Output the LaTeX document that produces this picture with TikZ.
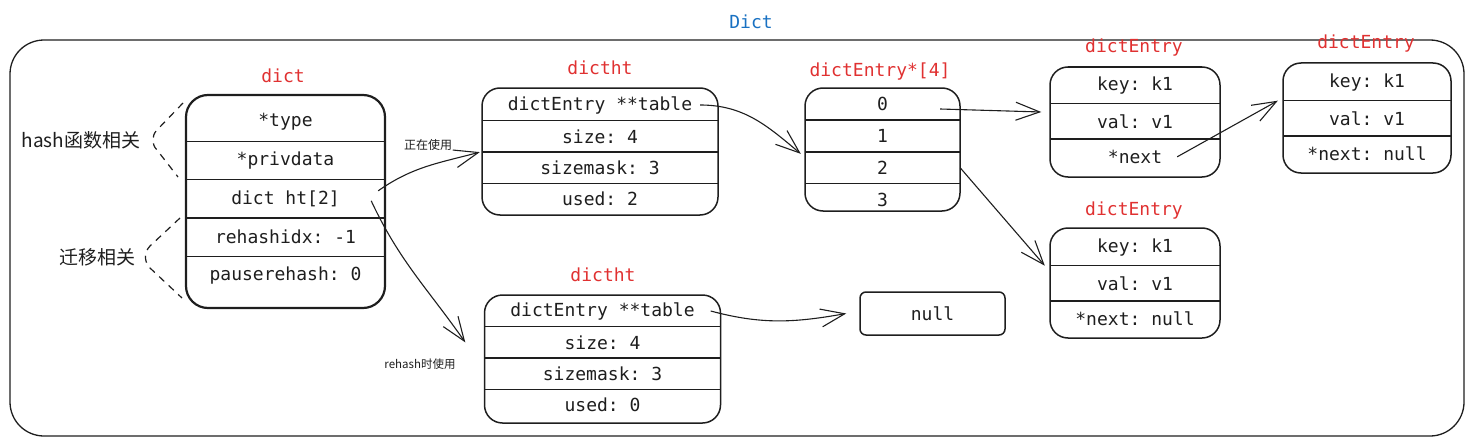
\documentclass[tikz,border=0pt]{standalone}
\usepackage{fontspec}
\setmonofont{DejaVu Sans Mono}
\newfontfamily\cjk{Noto Sans CJK SC}
\usetikzlibrary{arrows.meta,positioning}
\definecolor{ink}{HTML}{1E1E1E}
\definecolor{tagred}{HTML}{E03131}
\definecolor{tagblue}{HTML}{1971C2}

\begin{document}
\begin{tikzpicture}[x=1pt, y=-1pt,
      every node/.append style={font=\ttfamily\fontsize{18}{20}\selectfont, text=ink},
      box/.style={draw=ink, line width=1.5pt, rounded corners=18pt},
      tag/.style={text=tagred}]
    \useasboundingbox (0,0) rectangle (1474,444);
    \tikzstyle{sep} = [draw=ink, line width=1.3pt]
    \tikzstyle{link} = [draw=ink, line width=1.1pt, -{Straight Barb[length=24pt,width=18pt]}]
    \tikzstyle{note} = [font=\cjk\fontsize{12}{14}\selectfont]
    \tikzstyle{side} = [font=\cjk\fontsize{19}{22}\selectfont]
    \tikzstyle{brace} = [draw=ink, line width=1.2pt, dash pattern=on 7pt off 6pt]
    \tikzstyle{dfield} = [inner sep=0pt, minimum width=199pt, minimum height=38pt]
    \tikzstyle{tfield} = [inner sep=0pt, minimum width=236pt, minimum height=31pt]
    \tikzstyle{afield} = [inner sep=0pt, minimum width=155pt, minimum height=31.5pt]
    \tikzstyle{efield} = [inner sep=0pt, minimum width=170pt, minimum height=35pt]

    \node[draw=ink, line width=1.3pt, rounded corners=34pt, minimum width=1454pt, minimum height=396pt] (frame) at (737,238) {};
    \node[text=tagblue] (dictname) at (751,22) {Dict};

    \node[box, line width=2.2pt, rounded corners=22pt, minimum width=199pt, minimum height=213pt] (dict) at (285.5,201.5) {};
    \node[tag] (dictlbl) at (283,76) {dict};
    \node[dfield] (d1) at (285.5,122) {*type};
    \node[dfield, below=0pt of d1] (d2) {*privdata};
    \node[dfield, below=0pt of d2] (d3) {dict ht[2]};
    \node[dfield, below=0pt of d3] (d4) {rehashidx: -1};
    \node[dfield, below=0pt of d4] (d5) {pauserehash: 0};
    \foreach \r in {d1,d2,d3,d4} \draw[sep] (\r.south west) -- (\r.south east);

    \node[side] (hashfn) at (81,140) {hash函数相关};
    \node[side] (moverel) at (97,257) {迁移相关};
    \draw[brace] (183,103) -- (157,130) to[out=225,in=135] (157,150) -- (178,177);
    \draw[brace] (180,218) -- (150,246) to[out=225,in=135] (150,268) -- (182,298);

    \node[box, minimum width=236pt, minimum height=127pt] (ht1) at (600,151.5) {};
    \node[tag] (ht1lbl) at (600,68) {dictht};
    \node[tfield] (t1) at (600,105) {dictEntry **table};
    \node[tfield, below=0pt of t1] (t2) {size: 4};
    \node[tfield, below=0pt of t2] (t3) {sizemask: 3};
    \node[tfield, below=0pt of t3] (t4) {used: 2};
    \foreach \r in {t1,t2,t3} \draw[sep] (\r.south west) -- (\r.south east);

    \node[box, minimum width=236pt, minimum height=128pt] (ht2) at (602.5,359) {};
    \node[tag] (ht2lbl) at (603,275) {dictht};
    \node[tfield] (u1) at (602.5,311) {dictEntry **table};
    \node[tfield, below=0pt of u1] (u2) {size: 4};
    \node[tfield, below=0pt of u2] (u3) {sizemask: 3};
    \node[tfield, below=0pt of u3] (u4) {used: 0};
    \foreach \r in {u1,u2,u3} \draw[sep] (\r.south west) -- (\r.south east);

    \node[box, minimum width=155pt, minimum height=123pt] (tab) at (882.5,149.5) {};
    \node[tag] (tablbl) at (880,72) {dictEntry*[4]};
    \node[afield] (a0) at (882.5,104) {0};
    \node[afield, below=0pt of a0] (a1) {1};
    \node[afield, below=0pt of a1] (a2) {2};
    \node[afield, below=0pt of a2] (a3) {3};
    \foreach \r in {a0,a1,a2} \draw[sep] (\r.south west) -- (\r.south east);

    \node[box, rounded corners=6pt, minimum width=145pt, minimum height=43pt] (nul) at (932.5,313.5) {null};

    \node[box, minimum width=170pt, minimum height=110pt] (entA) at (1135,122) {};
    \node[tag] (entAlbl) at (1134,48) {dictEntry};
    \node[efield] (eA1) at (1135,86) {key: k1};
    \node[efield, below=0pt of eA1] (eA2) {val: v1};
    \node[efield, below=0pt of eA2] (eA3) {*next};
    \foreach \r in {eA1,eA2} \draw[sep] (\r.south west) -- (\r.south east);

    \node[box, minimum width=168pt, minimum height=110pt] (entB) at (1367,118) {};
    \node[tag] (entBlbl) at (1366,44) {dictEntry};
    \node[efield, minimum width=168pt] (eB1) at (1367,83) {key: k1};
    \node[efield, minimum width=168pt, below=0pt of eB1] (eB2) {val: v1};
    \node[efield, minimum width=168pt, below=0pt of eB2] (eB3) {*next: null};
    \foreach \r in {eB1,eB2} \draw[sep] (\r.south west) -- (\r.south east);

    \node[box, minimum width=170pt, minimum height=110pt] (entC) at (1135,283) {};
    \node[tag] (entClbl) at (1134,211) {dictEntry};
    \node[efield] (eC1) at (1135,248) {key: k1};
    \node[efield, below=0pt of eC1] (eC2) {val: v1};
    \node[efield, below=0pt of eC2] (eC3) {*next: null};
    \foreach \r in {eC1,eC2} \draw[sep] (\r.south west) -- (\r.south east);

    \draw[link] ([xshift=-7pt,yshift=8pt]d3.east) to[out=35,in=195] ([xshift=-2pt]t2.south west);
    \node[note] (inuse) at (428,145) {正在使用};
    \draw[link] ([xshift=-14pt,yshift=-2pt]d3.east) to[out=-65,in=125] ([xshift=-19pt]u2.west);
    \node[note, font=\cjk\fontsize{11.5}{14}\selectfont] (rehashuse) at (420,364) {rehash时使用};
    \draw[link] ([xshift=-18pt]t1.east) to[out=0,in=140] ([xshift=-4pt,yshift=-2pt]a1.south west);
    \draw[link] ([xshift=-10pt]u1.east) to[out=-15,in=190] ([xshift=-13pt]nul.west);
    \draw[link] ([xshift=-20pt,yshift=-5pt]a0.east) -- ([xshift=-8pt,yshift=10pt]entA.west);
    \draw[link] ([xshift=-43pt]eA3.east) -- ([xshift=-5pt]eB1.south west);
    \draw[link] (a2.east) -- ([xshift=-5pt]eC1.south west);
\end{tikzpicture}
\end{document}
